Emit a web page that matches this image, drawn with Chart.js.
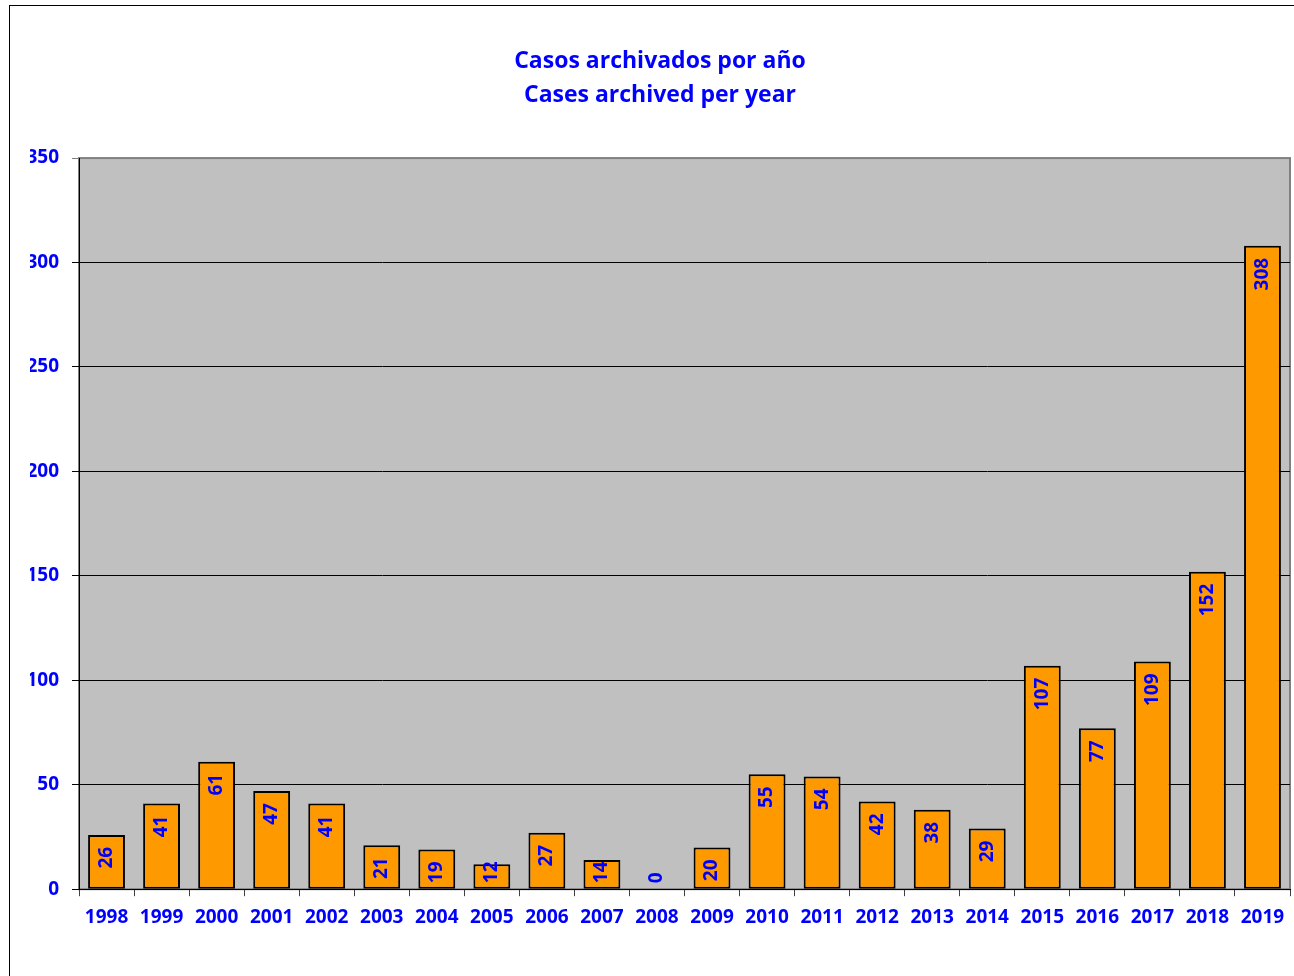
<!DOCTYPE html>
<html>
<head>
<meta charset="utf-8">
<script src="https://cdn.jsdelivr.net/npm/chart.js@4/dist/chart.umd.min.js"></script>
<style>
  body { margin: 0; background: #fff; overflow: hidden; }
  #frame { position: absolute; left: 9px; top: 5px; width: 1300px; height: 1000px; border: 1px solid #000; background: #fff; }
  #wrap { width: 1300px; height: 1000px; }
</style>
</head>
<body>
<div id="frame"><div id="wrap"><canvas id="chart"></canvas></div></div>
<script>
const years = ['1998', '1999', '2000', '2001', '2002', '2003', '2004', '2005', '2006', '2007', '2008',
  '2009', '2010', '2011', '2012', '2013', '2014', '2015', '2016', '2017', '2018', '2019']
const cases = [26, 41, 61, 47, 41, 21, 19, 12, 27, 14, 0, 20, 55, 54, 42, 38, 29, 107, 77, 109, 152, 308]
const titleLines = ['Casos archivados por año', 'Cases archived per year']

const blue = '#0000FF'
const font = '"Open Sans", "DejaVu Sans", sans-serif'

// gray plot area + frame
const plotBg = {
  id: 'plotBg',
  beforeDraw(chart) {
    const { ctx, chartArea: a } = chart
    ctx.save()
    ctx.fillStyle = '#C0C0C0'
    ctx.fillRect(a.left, a.top, a.right - a.left, a.bottom - a.top)
    ctx.strokeStyle = '#808080'
    ctx.lineWidth = 2
    ctx.strokeRect(a.left, a.top, a.right - a.left, a.bottom - a.top)
    ctx.restore()
  }
}

// rotated value labels near top of each bar
const valueLabels = {
  id: 'valueLabels',
  afterDatasetsDraw(chart) {
    const { ctx } = chart
    const meta = chart.getDatasetMeta(0)
    const base = chart.scales.y.getPixelForValue(0)
    ctx.save()
    ctx.font = 'bold 19px ' + font
    ctx.fillStyle = blue
    ctx.textBaseline = 'middle'
    ctx.textAlign = 'right'
    meta.data.forEach((bar, i) => {
      const txt = String(cases[i])
      const w = ctx.measureText(txt).width
      const top = Math.min(bar.y + 12, base - w - 6)
      ctx.save()
      ctx.translate(bar.x, top)
      ctx.rotate(-Math.PI / 2)
      ctx.fillText(txt, 0, 0)
      ctx.restore()
    })
    ctx.restore()
  }
}

new Chart(document.getElementById('chart'), {
  type: 'bar',
  data: {
    labels: years,
    datasets: [{
      data: cases,
      backgroundColor: '#FF9900',
      borderColor: '#000000',
      borderWidth: 2,
      borderSkipped: false,
      categoryPercentage: 1,
      barPercentage: 0.67
    }]
  },
  options: {
    responsive: true,
    maintainAspectRatio: false,
    animation: false,
    layout: { padding: { left: 20, right: 20, top: 30, bottom: 67 } },
    plugins: {
      legend: { display: false },
      tooltip: { enabled: false },
      title: {
        display: true,
        text: titleLines,
        color: blue,
        font: { family: font, size: 23, weight: 'bold', lineHeight: 1.48 },
        padding: { top: 8, bottom: 46 }
      }
    },
    scales: {
      x: {
        offset: true,
        grid: { offset: true, drawOnChartArea: false, drawTicks: true, tickLength: 7, color: '#404040' },
        border: { color: '#000', width: 1 },
        ticks: { color: blue, font: { family: font, size: 19, weight: 'bold' }, padding: 10, maxRotation: 0 }
      },
      y: {
        min: 0,
        max: 350,
        afterFit(s) { s.width = 49 },
        grid: {
          tickLength: 7,
          color: ctx => (ctx.tick && ctx.tick.value === 350) ? '#808080' : '#000',
          lineWidth: 1
        },
        border: { color: '#000', width: 1 },
        ticks: { stepSize: 50, color: blue, font: { family: font, size: 19, weight: 'bold' }, padding: 13 }
      }
    }
  },
  plugins: [plotBg, valueLabels]
})
</script>
</body>
</html>
